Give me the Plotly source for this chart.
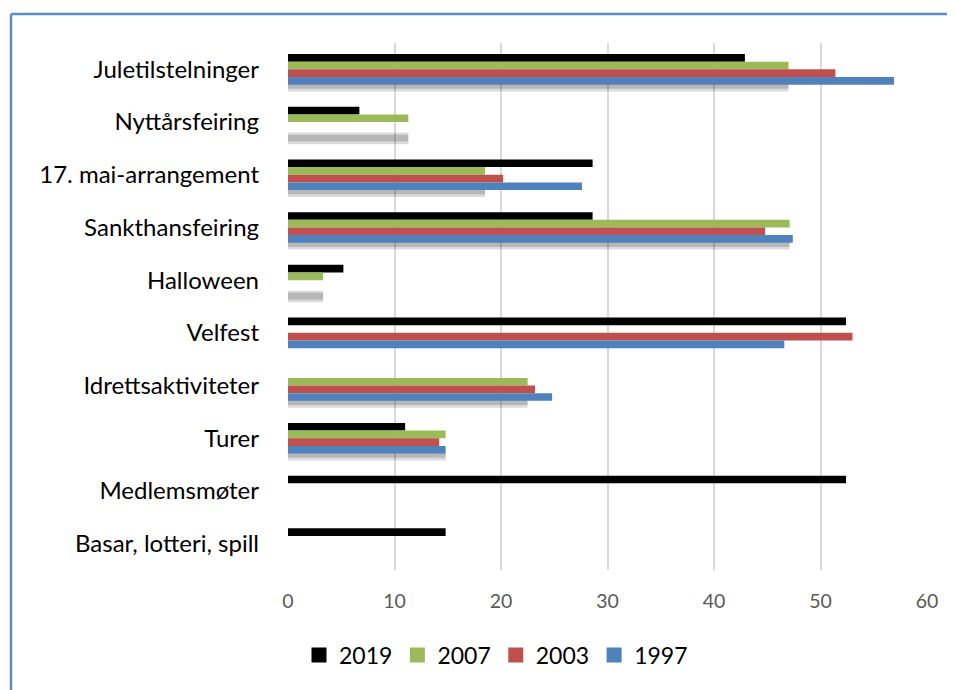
import plotly.graph_objects as go

categories = ["Juletilstelninger", "Nyttårsfeiring", "17. mai-arrangement", "Sankthansfeiring",
              "Halloween", "Velfest", "Idrettsaktiviteter", "Turer", "Medlemsmøter",
              "Basar, lotteri, spill"]
v2019 = [42.9, 6.7, 28.6, 28.6, 5.2, 52.4, None, 11.0, 52.4, 14.8]
v2007 = [47.0, 11.3, 18.5, 47.1, 3.3, None, 22.5, 14.8, None, None]
v2003 = [51.4, None, 20.2, 44.8, None, 53.0, 23.2, 14.2, None, None]
v1997 = [56.9, None, 27.6, 47.4, None, 46.6, 24.8, 14.8, None, None]
series_names = ["2019", "2007", "2003", "1997"]
colors = ["#000000", "#9BBB59", "#C0504D", "#4F81BD"]
x_ticks = [0, 10, 20, 30, 40, 50, 60]

# the page body adds an 8px offset; figure sized to fit the 955x690 window
OFF = 8
W, H = 955 - OFF, 690 - OFF
L, T = 288 - OFF, 43 - OFF
R = W - (927 - OFF)
B = H - (570 - OFF)
pw, ph = W - L - R, H - T - B

def px_x(x):
    return (x - OFF - L) / pw

def px_y(y):
    return (H - B - (y - OFF)) / ph

w = 0.145
fig = go.Figure()
# soft shadow under the 2007 series (as in the original chart styling)
fig.add_trace(go.Bar(y=categories, x=v2007, orientation="h", offset=0.2, width=0.22,
                     marker=dict(color="rgba(0,0,0,0.14)", line=dict(width=0)),
                     showlegend=False, hoverinfo="skip"))
fig.add_trace(go.Bar(y=categories, x=v2007, orientation="h", offset=0.24, width=0.13,
                     marker=dict(color="rgba(0,0,0,0.16)", line=dict(width=0)),
                     showlegend=False, hoverinfo="skip"))
for i, (name, vals, col) in enumerate(zip(series_names, [v2019, v2007, v2003, v1997], colors)):
    fig.add_trace(go.Bar(y=categories, x=vals, orientation="h", name=name,
                         offset=(i - 2) * w, width=w, showlegend=False,
                         marker=dict(color=col, line=dict(width=0))))
# legend entries with larger square keys
for name, col in zip(series_names, colors):
    fig.add_trace(go.Scatter(x=[None], y=[None], mode="markers", name=name,
                             marker=dict(symbol="square", size=15, color=col),
                             hoverinfo="skip"))

fig.update_layout(
    width=W, height=H, barmode="overlay",
    margin=dict(l=L, r=R, t=T, b=B),
    paper_bgcolor="white", plot_bgcolor="white",
    font=dict(family="Lato, sans-serif", color="#000000"),
    legend=dict(orientation="h", x=px_x(496), xanchor="center",
                y=px_y(655), yanchor="middle",
                font=dict(size=23, color="#000000"), traceorder="normal",
                itemwidth=30),
    xaxis=dict(range=[0, 60], tickvals=x_ticks, showgrid=True, gridcolor="#D9D9D9",
               gridwidth=2, zeroline=False, showline=False,
               tickfont=dict(size=19.5, color="#595959", family="Lato, sans-serif"),
               ticks="", ticklabelstandoff=17),
    yaxis=dict(autorange="reversed", showgrid=False, zeroline=False, showline=False,
               tickfont=dict(size=24, color="#000000", family="Lato, sans-serif"),
               ticks="", ticklabelstandoff=28),
    shapes=[
        dict(type="line", xref="paper", yref="paper",
             x0=px_x(11), x1=px_x(960), y0=px_y(14), y1=px_y(14),
             line=dict(color="#5B8CC8", width=2.5)),
        dict(type="line", xref="paper", yref="paper",
             x0=px_x(11), x1=px_x(11), y0=px_y(14), y1=px_y(700),
             line=dict(color="#5B8CC8", width=2.5)),
    ],
)
fig.write_html("out.html")
